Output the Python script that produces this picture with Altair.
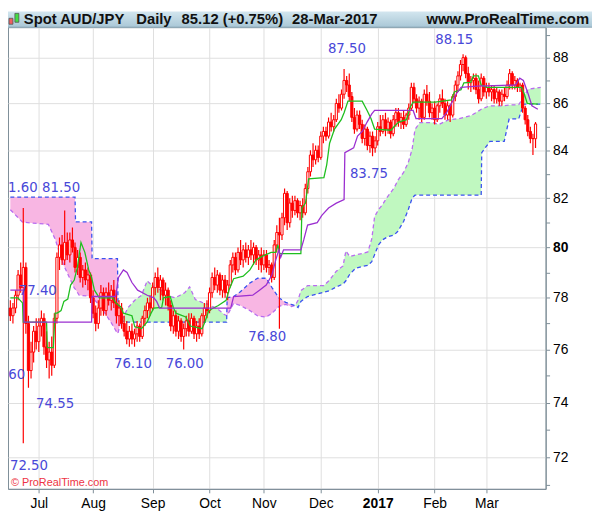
import altair as alt
import pandas as pd

# ---------------- data ----------------
opens = [77.6,77.3,77.6,78.1,78.9, 78.4,79.2,77.0,75.2,75.9, 76.7,76.3,76.9,77.2,76.1,
         75.6,75.9,75.4,77.2,79.6, 80.1,79.5,80.2,79.7,80.3, 80.0,79.2,79.6,78.8,79.1,
         78.7,78.9,78.0,77.4,77.0, 77.6,78.2,77.5,78.2,77.9, 78.3,77.8,77.3,77.6,77.0,
         76.7,76.4,76.7,76.4,76.6, 76.9,76.5,77.2,77.5,77.8, 77.6,78.4,78.8,78.4,78.7,
         78.1,78.3,77.7,76.9,77.3, 76.7,77.1,76.5,76.8,77.1, 76.7,77.2,76.6,76.9,76.6,
         77.3,77.6,77.5,78.2,78.8, 78.5,78.9,78.3,78.7,78.2, 78.5,79.3,79.6,79.1,79.8,
         79.5,79.9,79.6,79.9,79.7, 80.0,79.5,79.7,79.3,79.7, 79.2,79.3,78.8,80.1,80.6,
         80.5,81.2,82.2,81.0,81.8, 81.5,81.9,81.4,81.7,81.4, 82.4,83.1,83.8,83.6,84.0,
         83.7,84.6,84.8,84.6,85.2, 85.0,85.3,86.0,85.8,86.4, 87.0,86.8,86.3,85.4,84.9,
         85.5,85.1,84.5,84.9,84.2, 84.6,84.1,84.4,85.0,84.8, 85.3,84.9,85.2,84.7,85.3,
         85.6,85.2,85.4,85.1,85.5, 85.8,86.7,86.2,85.8,86.1, 85.4,86.4,86.1,85.6,85.8,
         85.3,85.9,86.2,86.0,85.5, 85.9,85.5,86.3,86.8,87.2, 87.7,88.0,87.3,86.9,87.0,
         87.1,86.6,86.2,87.1,86.5, 86.7,86.5,86.6,86.2,86.5, 86.1,86.4,86.3,86.8,87.3,
         86.8,87.0,86.7,86.8,85.8, 85.3,84.8,84.5,84.49]
highs = [77.9,77.8,78.3,79.1,79.4, 81.6,79.4,77.3,76.3,76.9, 77.2,77.2,77.5,77.4,76.7,
         76.3,76.5,77.4,79.8,80.4, 80.5,81.5,80.6,80.6,80.8, 80.2,79.9,79.8,79.3,79.4,
         79.2,79.0,78.3,77.7,77.9, 78.5,78.4,78.4,78.6,78.5, 78.7,78.3,77.9,77.8,77.3,
         77.1,76.9,77.0,76.8,77.1, 77.0,77.3,77.7,78.0,78.1, 78.6,79.0,79.2,78.9,78.8,
         78.6,78.4,77.9,77.5,77.5, 77.3,77.2,77.0,77.3,77.4, 77.4,77.3,77.1,77.2,77.4,
         77.8,77.9,78.4,79.0,79.2, 79.1,79.0,78.9,78.9,78.7, 79.5,79.8,79.8,80.0,80.3,
         80.1,80.2,80.1,80.3,80.2, 80.1,79.9,80.0,79.9,79.9, 79.5,79.4,80.3,80.9,81.2,
         81.4,82.4,82.3,82.0,82.1, 82.1,82.0,81.9,82.0,82.6, 83.3,84.0,84.3,84.2,84.2,
         84.8,85.0,85.0,85.4,85.6, 85.5,86.2,86.4,86.6,87.5, 87.2,87.3,86.5,85.8,85.7,
         85.7,85.3,85.1,85.0,84.8, 84.8,84.6,85.2,85.5,85.5, 85.6,85.4,85.3,85.5,85.8,
         85.8,85.6,85.7,85.6,86.0, 86.9,86.9,86.4,86.3,86.2, 86.6,86.8,86.5,86.0,86.1,
         86.0,86.4,86.6,86.2,86.1, 86.0,86.4,87.0,87.4,87.9, 88.15,88.1,87.6,87.2,87.3,
         87.3,87.0,87.3,87.2,86.9, 86.9,86.8,86.8,86.7,86.6, 86.6,86.7,87.0,87.5,87.4,
         87.2,87.1,86.9,86.9,85.9, 85.5,85.0,84.7,85.2]
lows = [77.1,77.0,77.4,77.9,78.2, 72.5,76.6,74.55,74.9,75.5, 76.0,75.9,76.5,75.8,75.3,
        74.9,75.0,75.3,77.0,79.1, 79.3,79.3,79.5,79.4,79.8, 79.0,78.9,78.6,78.4,78.5,
        78.3,77.8,77.2,76.7,76.8, 77.3,77.3,77.3,77.7,77.5, 77.6,77.0,76.9,76.8,76.5,
        76.2,76.1,76.2,76.1,76.3, 76.3,76.4,76.9,77.2,77.3, 77.5,78.1,78.2,77.9,77.9,
        77.7,77.5,76.7,76.6,76.5, 76.4,76.3,76.0,76.5,76.5, 76.6,76.4,76.3,76.4,76.5,
        77.0,77.2,77.4,78.0,78.3, 78.2,78.1,78.0,78.0,77.9, 78.4,79.0,78.9,79.0,79.3,
        79.2,79.4,79.3,79.5,79.3, 79.3,79.1,79.0,79.1,79.0, 78.9,78.6,78.7,79.8,76.8,
        80.3,80.9,80.7,80.8,81.2, 81.3,81.2,81.1,81.2,81.3, 82.2,82.9,83.3,83.4,83.5,
        83.6,84.3,84.4,84.5,84.8, 84.8,85.2,85.6,85.7,86.2, 86.5,86.1,85.2,84.7,84.8,
        84.9,84.3,84.2,84.0,83.9, 83.75,83.9,84.2,84.6,84.7, 84.6,84.7,84.5,84.6,85.0,
        85.0,84.9,84.9,85.0,85.3, 85.7,86.0,85.6,85.3,85.2, 85.3,85.9,85.4,85.3,85.1,
        85.2,85.6,85.8,85.3,85.3, 85.2,85.4,86.1,86.5,87.0, 87.4,87.1,86.6,86.5,86.6,
        86.4,86.0,86.1,86.3,86.2, 86.3,86.1,86.0,86.0,85.9, 85.9,86.1,86.2,86.6,86.6,
        86.6,86.5,86.5,85.6,85.1, 84.6,84.3,83.8,84.1]
closes = [77.3,77.6,78.1,78.9,78.4, 79.2,77.0,75.2,75.9,76.7, 76.3,76.9,77.2,76.1,75.6,
          75.9,75.4,77.2,79.6,80.1, 79.5,80.2,79.7,80.3,80.0, 79.2,79.6,78.8,79.1,78.7,
          78.9,78.0,77.4,77.0,77.6, 78.2,77.5,78.2,77.9,78.3, 77.8,77.3,77.6,77.0,76.7,
          76.4,76.7,76.4,76.6,76.9, 76.5,77.2,77.5,77.8,77.6, 78.4,78.8,78.4,78.7,78.1,
          78.3,77.7,76.9,77.3,76.7, 77.1,76.5,76.8,77.1,76.7, 77.2,76.6,76.9,76.6,77.3,
          77.6,77.5,78.2,78.8,78.5, 78.9,78.3,78.7,78.2,78.5, 79.3,79.6,79.1,79.8,79.5,
          79.9,79.6,79.9,79.7,80.0, 79.5,79.7,79.3,79.7,79.2, 79.3,78.8,80.1,80.6,80.5,
          81.2,82.2,81.0,81.8,81.5, 81.9,81.4,81.7,81.4,82.4, 83.1,83.8,83.6,84.0,83.7,
          84.6,84.8,84.6,85.2,85.0, 85.3,86.0,85.8,86.4,87.0, 86.8,86.3,85.4,84.9,85.5,
          85.1,84.5,84.9,84.2,84.6, 84.1,84.4,85.0,84.8,85.3, 84.9,85.2,84.7,85.3,85.6,
          85.2,85.4,85.1,85.5,85.8, 86.7,86.2,85.8,86.1,85.4, 86.4,86.1,85.6,85.8,85.3,
          85.9,86.2,86.0,85.5,85.9, 85.5,86.3,86.8,87.2,87.7, 88.0,87.3,86.9,87.0,87.1,
          86.6,86.2,87.1,86.5,86.7, 86.5,86.6,86.2,86.5,86.1, 86.4,86.3,86.8,87.3,86.8,
          87.0,86.7,86.8,85.8,85.3, 84.8,84.5,84.49,85.12]

tenkan_idx = [0, 2.9, 4.7, 5.0, 14.0, 14.3, 16.6, 17.3, 18.1, 19.6, 20.7, 22.2, 23.3, 24.7, 25.9,
              27.3, 28.8, 30.3, 31.4, 32.5, 34.4, 39.6, 40.7, 42.6, 43.7, 47.0, 48.1, 50.7, 52.9,
              54.4, 55.5, 58.5, 59.2, 61.8, 63.0, 64.0, 67.8, 69.6, 74.1, 75.2, 76.7, 78.5, 80.4,
              83.4, 84.5, 86.3, 90.0, 92.6, 94.9, 97.5, 100.8, 102.6, 103.4, 104.1, 112.3, 112.7,
              114.1, 115.3, 121.2, 122.3, 123.4, 125.3, 127.9, 129.0, 130.5, 136.0, 137.9, 139.4,
              140.8, 147.1, 148.3, 150.1, 153.1, 154.6, 155.7, 164.2, 170.5, 171.6, 174.2, 175.3,
              177.9, 179.0, 180.9, 182.0, 184.2, 197.6, 198.7, 199.8, 203.9]
tenkan = [78.0, 78.0, 77.8, 77.05, 77.05, 76.07, 76.07, 77.4, 77.4, 77.5, 77.86, 77.95, 78.5, 78.7,
          79.2, 80.2, 79.8, 79.1, 78.8, 78.3, 78.0, 78.0, 77.8, 77.65, 77.4, 77.3, 76.87, 76.8,
          77.06, 77.4, 77.6, 77.62, 78.0, 78.05, 77.62, 77.4, 77.25, 76.9, 76.8, 77.06, 77.5,
          77.6, 77.7, 77.9, 78.3, 78.75, 78.85, 79.1, 79.5, 79.65, 79.8, 79.8, 80.1, 79.75,
          79.75, 81.6, 81.8, 82.8, 82.85, 83.4, 84.3, 84.9, 85.3, 85.6, 86.1, 86.1, 85.7, 85.35,
          84.9, 84.85, 85.0, 85.2, 85.3, 85.85, 86.06, 86.06, 86.15, 86.5, 86.6, 86.9, 86.92,
          87.2, 87.2, 86.8, 86.7, 86.7, 86.4, 86.0, 85.97]

kijun_idx = [0, 5.1, 5.3, 31.4, 31.6, 40.7, 41.8, 43.7, 45.1, 47.0, 49.2, 52.9, 55.5, 56.6, 57.7,
             85.2, 86.3, 93.7, 96.3, 98.9, 101.1, 102.6, 103.8, 104.5, 105.6, 112.3, 113.4, 114.9,
             118.6, 120.4, 123.0, 126.0, 129.0, 129.3, 132.7, 134.2, 136.0, 137.9, 139.7, 140.8,
             155.7, 156.8, 166.8, 168.6, 170.5, 172.3, 174.2, 180.5, 195.3, 196.9, 198.3, 200.2,
             201.6, 203.9]
kijun = [78.3, 78.3, 77.05, 77.05, 78.05, 78.05, 78.8, 79.1, 79.0, 78.6, 78.3, 78.1, 78.0, 77.85,
         77.6, 77.6, 78.05, 78.1, 78.3, 78.5, 78.9, 79.5, 79.9, 79.6, 79.9, 79.9, 80.3, 80.9, 81.0,
         81.3, 81.6, 81.8, 81.95, 83.9, 84.1, 84.6, 84.8, 85.2, 85.55, 85.7, 85.7, 85.35, 85.35,
         85.6, 86.0, 86.4, 86.7, 86.75, 86.8, 87.1, 87.0, 86.4, 85.9, 85.75]

cloud_idx = [0, 4.7, 14.7, 17.3, 20.3, 24.7, 25.0, 25.2, 26.6, 31.4, 31.6, 35.1, 38.8, 41.4, 41.6,
             42.5, 43.7, 45.5, 48.1, 50.7, 52.9, 54.8, 58.5, 61.8, 63.7, 65.6, 67.4, 69.3, 71.5,
             74.1, 76.7, 80.4, 82.6, 83.6, 83.8, 86.3, 88.9, 92.6, 95.6, 98.9, 101.2, 103.8, 106.4,
             108.6, 110.1, 111.2, 112.3, 114.9, 121.2, 123.4, 126.0, 128.6, 129.7, 131.2, 133.4,
             136.0, 138.2, 139.7, 140.8, 142.3, 143.8, 145.7, 148.3, 149.8, 152.0, 153.8, 155.3,
             156.4, 158.3, 163.1, 165.7, 169.4, 173.1, 177.9, 180.5, 182.0, 182.2, 185.4, 190.9,
             192.8, 196.5, 198.4, 200.2, 205.0]
span_a = [81.53, 81.02, 80.93, 80.34, 79.36, 78.39, 78.35, 78.33, 78.1, 78.05, 78.03, 77.62, 77.06,
          76.62, 76.62, 77.0, 77.25, 77.62, 77.9, 78.1, 78.67, 78.48, 78.28, 78.05, 78.0, 78.1,
          78.2, 78.43, 77.93, 77.82, 77.74, 77.54, 77.36, 77.3, 77.3, 77.78, 77.7, 77.5, 77.29,
          77.25, 77.4, 77.66, 77.74, 77.66, 77.7, 77.9, 78.28, 78.48, 78.48, 78.7, 79.05, 79.26,
          79.86, 79.63, 79.7, 79.75, 79.82, 80.34, 81.25, 81.53, 81.73, 82.05, 82.42, 82.74, 83.07,
          83.48, 84.05, 84.88, 85.18, 85.18, 85.1, 85.3, 85.34, 85.47, 85.64, 85.75, 85.76, 85.9,
          85.9, 85.93, 85.95, 86.28, 86.62, 86.7]
span_b = [82.05, 82.05, 82.05, 82.05, 82.05, 82.05, 82.05, 81.03, 81.03, 81.03, 79.55, 79.55, 79.55,
          79.55, 77.9, 77.3, 77.05, 77.05, 77.05, 77.05, 77.05, 77.05, 77.05, 77.05, 77.05, 77.05,
          77.05, 77.05, 77.05, 77.05, 77.05, 77.05, 77.05, 77.05, 78.0, 78.05, 78.24, 78.58, 78.77,
          78.77, 78.39, 78.0, 77.82, 77.74, 77.7, 77.62, 77.86, 78.05, 78.22, 78.28, 78.43, 78.54,
          78.67, 78.93, 79.16, 79.24, 79.28, 79.43, 79.71, 80.1, 80.3, 80.42, 80.5, 80.65, 81.05,
          81.53, 82.0, 82.13, 82.13, 82.13, 82.13, 82.13, 82.13, 82.13, 82.13, 82.13, 83.9, 84.38,
          84.38, 85.34, 85.34, 85.97, 85.97, 85.97]

note_text = ["81.60", "81.50", "77.40", "74.60", "74.55", "72.50", "76.10", "76.00", "76.80",
             "83.75", "87.50", "88.15"]
note_idx = [3.2, 19.6, 10.6, -1.6, 17.3, 7.2, 47.4, 67.4, 99.3, 138.6, 130.1, 171.6]
note_val = [82.43, 82.43, 78.25, 75.02, 73.95, 71.68, 75.43, 75.43, 76.49, 83.0, 88.39, 88.79]

month_labels = ["Jul", "Aug", "Sep", "Oct", "Nov", "Dec", "2017", "Feb", "Mar"]
month_pos = [11, 32, 55, 77, 98, 120, 142, 164, 184]
price_ticks = list(range(71, 90))

# ---------------- tables ----------------
bars = pd.DataFrame({"i": list(range(len(closes))), "o": opens, "h": highs, "l": lows, "c": closes})
cloud = pd.DataFrame({"i": cloud_idx, "a": span_a, "b": span_b})
cloud["top"] = cloud[["a", "b"]].max(axis=1)
tk = pd.DataFrame({"i": tenkan_idx, "v": tenkan})
kj = pd.DataFrame({"i": kijun_idx, "v": kijun})
notes = pd.DataFrame({"i": note_idx, "v": note_val, "t": note_text})
one = pd.DataFrame({"k": [0]})

W, H = 545, 468
FONT = "Liberation Sans"
AXC = "#7d8d97"

xs = alt.Scale(domain=[1.0, 205], nice=False, zero=False)
ys = alt.Scale(type="log", domain=[70.86, 89.36], nice=False)

x_expr = " : ".join(f"datum.value == {p} ? '{l}'" for p, l in zip(month_pos, month_labels)) + " : ''"
x_axis = alt.Axis(values=month_pos, labelExpr=x_expr, orient="bottom", title=None,
                  grid=True, gridColor="#dedede", tickSize=4, tickColor=AXC, domainColor=AXC,
                  labelFont=FONT, labelFontSize=14, labelColor="#000", labelPadding=4,
                  labelOverlap=False, labelFlush=False,
                  labelFontWeight={"condition": {"test": "datum.value == 142", "value": "bold"}, "value": "normal"})
y_axis = alt.Axis(values=price_ticks, labelExpr="datum.value % 2 == 0 ? datum.value : ''",
                  orient="right", title=None, grid=True, gridColor="#dedede",
                  gridOpacity={"condition": {"test": "datum.value % 2 == 0", "value": 1}, "value": 0},
                  tickSize=4, tickColor=AXC, domainColor=AXC, labelFont=FONT, labelFontSize=14,
                  labelColor="#000", labelPadding=3, labelOverlap=False, labelFlush=False,
                  labelFontWeight={"condition": {"test": "datum.value == 80", "value": "bold"}, "value": "normal"})


def X(f):
    return alt.X(f"{f}:Q", scale=xs, axis=x_axis)


def Y(f):
    return alt.Y(f"{f}:Q", scale=ys, axis=y_axis)


pink = alt.Chart(cloud).mark_area(color="#f8b6e3", opacity=1, clip=True).encode(
    x=X("i"), y=Y("a"), y2="top")
green = alt.Chart(cloud).mark_area(color="#c0f8c0", opacity=1, clip=True).encode(
    x=X("i"), y=Y("b"), y2="top")
line_a = alt.Chart(cloud).mark_line(color="#b86cf0", strokeDash=[4, 3], strokeWidth=1.3, clip=True).encode(
    x=X("i"), y=Y("a"))
line_b = alt.Chart(cloud).mark_line(color="#3a52f0", strokeDash=[4, 3], strokeWidth=1.3, clip=True).encode(
    x=X("i"), y=Y("b"))

wicks = alt.Chart(bars).mark_rule(color="#ff0000", strokeWidth=1.2, clip=True).encode(
    x=X("i"), y=Y("l"), y2="h")
bodies = alt.Chart(bars).mark_bar(size=2.2, stroke="#ff0000", strokeWidth=1, clip=True).encode(
    x=X("i"), y=Y("o"), y2="c",
    fill=alt.condition("datum.c >= datum.o", alt.value("white"), alt.value("#ff0000")))

tenkan_line = alt.Chart(tk).mark_line(color="#1fbf1f", strokeWidth=1.3, clip=True).encode(
    x=X("i"), y=Y("v"))
kijun_line = alt.Chart(kj).mark_line(color="#9b2fd0", strokeWidth=1.3, clip=True).encode(
    x=X("i"), y=Y("v"))

labels = alt.Chart(notes).mark_text(font="DejaVu Sans", fontSize=13.5, color="#4848d8",
                                    align="center", baseline="middle", clip=True).encode(
    x=X("i"), y=Y("v"), text="t:N")

copyright_ = alt.Chart(one).mark_text(text="© ProRealTime.com", font=FONT, fontSize=11,
                                      color="#ee3344", align="left", baseline="middle").encode(
    x=alt.value(3), y=alt.value(H - 6))

grad = alt.LinearGradient(gradient="linear",
                          stops=[alt.GradientStop(color="#d3e6ef", offset=0),
                                 alt.GradientStop(color="#a9c7d6", offset=1)],
                          x1=0, x2=0, y1=0, y2=1)
header = alt.Chart(one).mark_rect(color=grad).encode(
    x=alt.value(0), x2=alt.value(W + 47), y=alt.value(-16), y2=alt.value(0))
header_line = alt.Chart(one).mark_rule(color="#8aa6b5", strokeWidth=1).encode(
    x=alt.value(0), x2=alt.value(W + 47), y=alt.value(0))
icon_r = alt.Chart(one).mark_rect(color="#f06060", stroke="#555", strokeWidth=0.8).encode(
    x=alt.value(1), x2=alt.value(5), y=alt.value(-9), y2=alt.value(-3))
icon_g = alt.Chart(one).mark_rect(color="#44dd44", stroke="#555", strokeWidth=0.8).encode(
    x=alt.value(7), x2=alt.value(11), y=alt.value(-14), y2=alt.value(-5))

head_items = []
for txt, px in [("Spot AUD/JPY", 16), ("Daily", 130), ("85.12 (+0.75%)", 176), ("28-Mar-2017", 288)]:
    head_items.append(alt.Chart(one).mark_text(text=txt, font=FONT, fontSize=15, fontWeight="bold",
                                               color="#111", align="left", baseline="middle").encode(
        x=alt.value(px), y=alt.value(-8)))
head_items.append(alt.Chart(one).mark_text(text="www.ProRealTime.com", font=FONT, fontSize=15,
                                           fontWeight="bold", color="#111", align="right",
                                           baseline="middle").encode(
    x=alt.value(W + 44), y=alt.value(-8)))

chart = alt.layer(
    pink, green, line_a, line_b, wicks, bodies, tenkan_line, kijun_line, labels, copyright_,
    header, header_line, icon_r, icon_g, *head_items
).properties(
    width=W, height=H,
    autosize=alt.AutoSizeParams(type="none"),
    padding={"left": 0, "top": 16, "right": 47, "bottom": 19},
    background="white",
).configure_view(stroke=AXC, strokeWidth=1)

chart.save("out.html", embed_options={"renderer": "svg", "actions": False})
